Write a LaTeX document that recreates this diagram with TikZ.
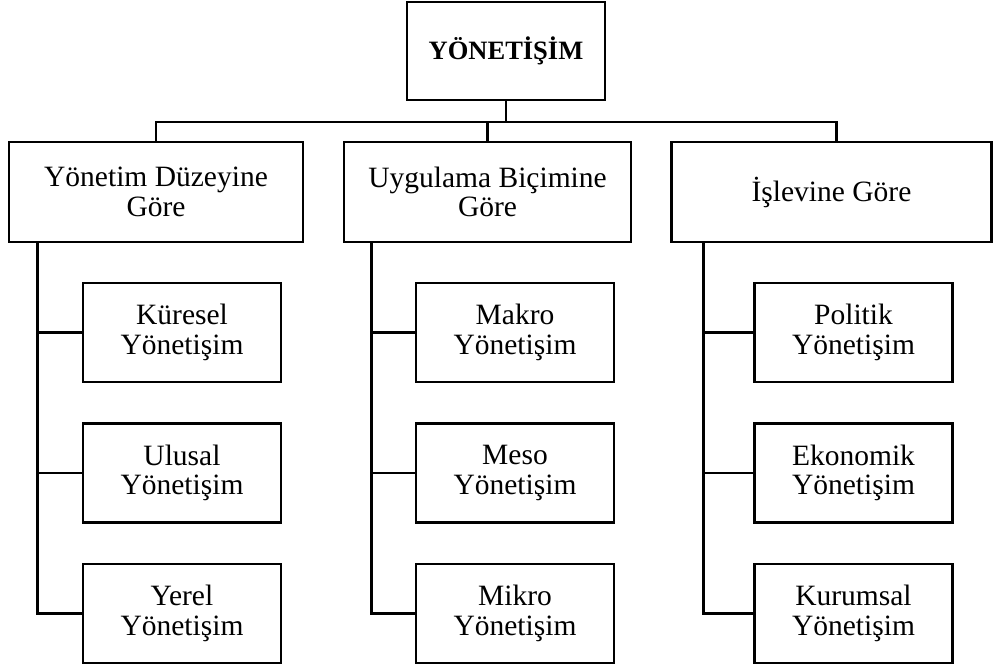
\documentclass[tikz,border=0pt]{standalone}
\usepackage{fontspec}
\setmainfont{Liberation Serif}
\usepackage{tikz}
\usetikzlibrary{calc}
\tikzstyle{govbox}=[draw=black, line width=2.6pt, fill=white, align=center, inner sep=0pt,
    font=\fontsize{29.5}{29.5}\selectfont]
\tikzstyle{catbox}=[govbox, minimum height=100pt]
\tikzstyle{subbox}=[govbox, minimum width=198pt, minimum height=99pt]
\tikzstyle{link}=[draw=black, line width=2.6pt]

\begin{document}
\begin{tikzpicture}[x=1pt, y=-1pt]
\useasboundingbox (0,0) rectangle (993,668);
\node[govbox, minimum width=198pt, minimum height=98pt,
      font=\fontsize{26.5}{28}\selectfont\bfseries] (gov) at (506,51){YÖNETİŞİM};
\coordinate (bar) at (506,122);
% first level
\node[catbox, minimum width=294pt] (lvl) at (156,192){Yönetim Düzeyine\\Göre};
\node[catbox, minimum width=287pt] (app) at (487.5,192){Uygulama Biçimine\\Göre};
\node[catbox, minimum width=320pt] (fun) at (831.5,192){İşlevine Göre};
% second level
\node[subbox] (lvl1) at (182,332.5){Küresel\\Yönetişim};
\node[subbox] (lvl2) at (182,473){Ulusal\\Yönetişim};
\node[subbox] (lvl3) at (182,613.5){Yerel\\Yönetişim};
\node[subbox] (app1) at (515,332.5){Makro\\Yönetişim};
\node[subbox] (app2) at (515,473){Meso\\Yönetişim};
\node[subbox] (app3) at (515,613.5){Mikro\\Yönetişim};
\node[subbox] (fun1) at (853.5,332.5){Politik\\Yönetişim};
\node[subbox] (fun2) at (853.5,473){Ekonomik\\Yönetişim};
\node[subbox] (fun3) at (853.5,613.5){Kurumsal\\Yönetişim};
\coordinate (lvlt) at ($(lvl.south west)+(30,0)$);
\coordinate (appt) at ($(app.south west)+(29,0)$);
\coordinate (funt) at ($(fun.south west)+(33,0)$);
\draw[link](gov.south) -- (bar);
\draw[link](lvl.north) |- (bar) -| ($(fun.north)+(5,0)$);
\draw[link](app.north) |- (bar);
\foreach \c in {lvl,app,fun}{
  \foreach \i in {1,2,3}{
    \draw[link](\c t) |- (\c\i.west);
  }
}
\end{tikzpicture}
\end{document}
